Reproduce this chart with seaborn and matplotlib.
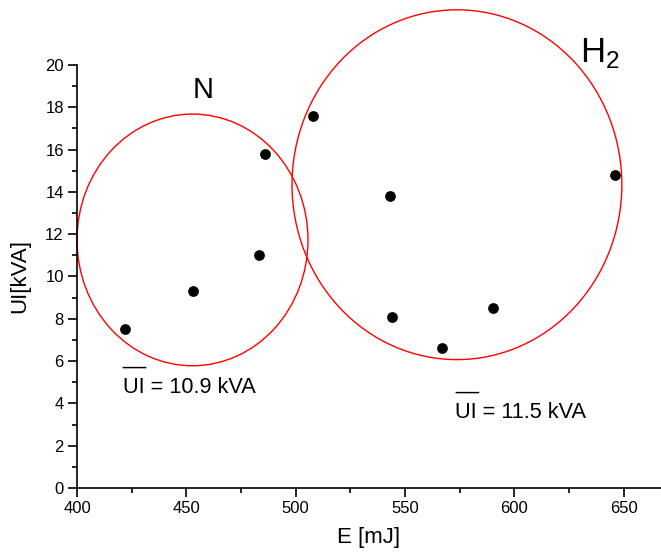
import matplotlib
matplotlib.use("Agg")
import matplotlib.pyplot as plt
import seaborn as sns
import pandas as pd
from matplotlib.patches import Ellipse
from matplotlib.ticker import MultipleLocator

energy = [422, 453, 483, 486, 508, 543, 544, 567, 590, 646]
ui = [7.5, 9.3, 11.0, 15.8, 17.6, 13.8, 8.1, 6.6, 8.5, 14.8]
groups = ["N", "N", "N", "N", "H2", "H2", "H2", "H2", "H2", "H2"]

# ellipse outlines (center x, center y, width, height)
n_ellipse = (452.8, 11.73, 105.6, 11.9)
h_ellipse = (573.7, 14.34, 150.8, 16.54)

sns.set_style("ticks")
plt.rcParams['font.family'] = ['Liberation Sans', 'DejaVu Sans']
plt.rcParams['mathtext.fontset'] = 'custom'
plt.rcParams['mathtext.rm'] = 'Liberation Sans'
plt.rcParams['text.color'] = 'black'
plt.rcParams['axes.labelcolor'] = 'black'
plt.rcParams['xtick.color'] = 'black'
plt.rcParams['ytick.color'] = 'black'
plt.rcParams['xtick.labelcolor'] = 'black'
plt.rcParams['ytick.labelcolor'] = 'black'

df = pd.DataFrame({"E": energy, "UI": ui, "group": groups})

fig = plt.figure(figsize=(6.61, 5.56), dpi=100)
ax = fig.add_axes([77/661, 1 - 488/556, 1 - 77/661, (488 - 65)/556])

sns.scatterplot(data=df, x="E", y="UI", color="black", s=60, edgecolor="black",
                linewidth=0, ax=ax, zorder=3, clip_on=False)

for cx, cy, w, h in (n_ellipse, h_ellipse):
    ax.add_patch(Ellipse((cx, cy), w, h, fill=False, edgecolor="red",
                         linewidth=1.0, clip_on=False))

ax.set_xlim(400, 667)
ax.set_ylim(0, 20)
ax.xaxis.set_major_locator(MultipleLocator(50))
ax.xaxis.set_minor_locator(MultipleLocator(25))
ax.yaxis.set_major_locator(MultipleLocator(2))
ax.yaxis.set_minor_locator(MultipleLocator(1))
ax.tick_params(which="major", length=6.5, width=1.2, labelsize=12, color="black",
               labelcolor="black", pad=3)
ax.tick_params(which="minor", length=3.5, width=1.2, color="black")
for sp in ("left", "bottom"):
    ax.spines[sp].set_linewidth(1.2)
    ax.spines[sp].set_color("black")
sns.despine(ax=ax)

ax.set_xlabel("E [mJ]", fontsize=16, labelpad=8, color="black")
ax.set_ylabel("UI[kVA]", fontsize=16, labelpad=11, color="black")

ax.text(453.0, 18.42, "N", fontsize=21, ha="left", va="baseline", color="black")
ax.text(629.9, 20.14, r"H$_2$", fontsize=25, ha="left", va="baseline",
        clip_on=False, color="black")

ax.text(420.9, 4.49, "UI = 10.9 kVA", fontsize=15.7, ha="left", va="baseline", color="black")
ax.text(420.9, 5.86, "__", fontsize=15.7, ha="left", va="baseline", color="black")
ax.text(572.8, 3.32, "UI = 11.5 kVA", fontsize=15.7, ha="left", va="baseline", color="black")
ax.text(572.8, 4.69, "__", fontsize=15.7, ha="left", va="baseline", color="black")

fig.savefig("out.png", dpi=100)
